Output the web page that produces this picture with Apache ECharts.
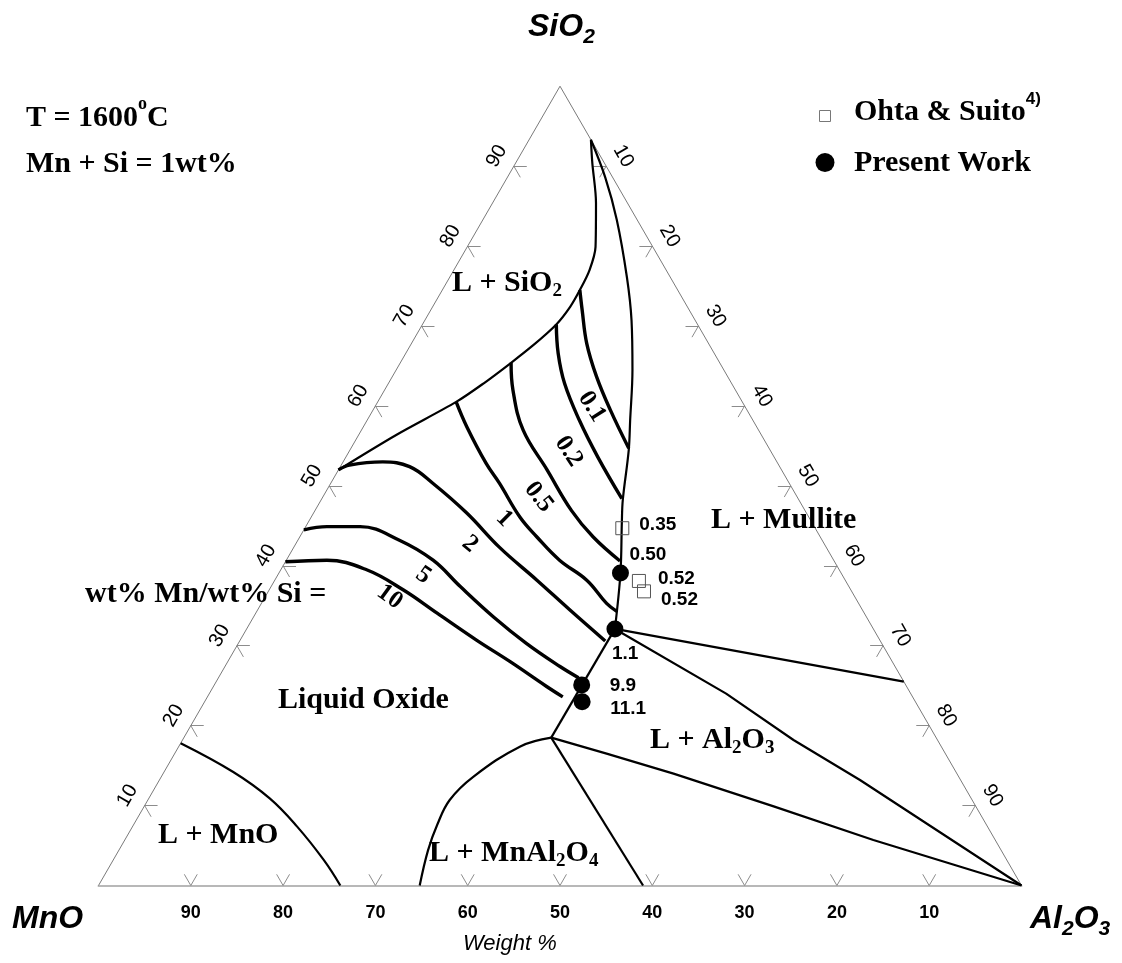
<!DOCTYPE html>
<html>
<head>
<meta charset="utf-8">
<script src="https://cdn.jsdelivr.net/npm/echarts@6.0.0/dist/echarts.min.js"></script>
<style>
  html, body { margin: 0; padding: 0; background: #fff; }
  #chart { width: 1122px; height: 963px; }
</style>
</head>
<body>
<div id="chart"></div>
<script>
// Compositions are written as [SiO2 wt%, Al2O3 wt%]; MnO makes up the balance.

// phase boundaries
const silicaLiquidus = [[52.0,0],[56.4,4.1],[60.5,8.5],[62.8,10.3],[65.4,12.0],[67.6,13.3],[70.2,14.5],[72.4,14.9],[74.5,14.9],[77.0,14.7],[79.9,13.9],[85.4,11.2],[90.4,8.3],[93.3,6.7]];
const mulliteBoundary = [[93.3,6.7],[88.6,10.6],[83.3,14.5],[76.1,19.2],[70.7,22.4],[64.5,25.6],[58.2,28.5],[54.5,30.2],[48.2,32.7],[45.4,34.0],[39.1,37.0],[32.1,39.9]];
const aluminaUpper = [[32.1,39.9],[18.5,39.8]];
const mulliteAlumina = [[32.1,39.9],[25.5,74.5]];
const mulliteTie = [[32.1,39.9],[24.0,56.0],[18.2,66.2],[13.2,75.9],[0,100]];
const spinelTie = [[18.5,39.8],[16.5,46.8],[14.0,55.3],[9.9,68.2],[5.7,81.1],[0,100]];
const spinelRight = [[18.5,39.8],[0,59.0]];
const spinelLiquidus = [[18.5,39.8],[17.4,37.0],[13.6,33.8],[10.7,32.7],[7.6,32.9],[4.4,33.5],[0,34.8]];
const manganositeLiquidus = [[17.8,0],[14.2,7.5],[10.9,13.1],[7.4,17.8],[3.2,22.8],[0,26.2]];

// iso wt% Mn / wt% Si lines
const isoRatio01 = [[74.5,14.9],[72.0,16.4],[67.8,19.0],[63.7,22.1],[59.5,25.7],[54.7,30.1]];
const isoRatio02 = [[70.2,14.5],[66.6,16.5],[62.8,19.1],[58.2,23.0],[53.6,27.3],[48.4,32.5]];
const isoRatio05 = [[65.4,12.0],[62.0,13.9],[57.0,17.5],[52.0,22.6],[46.9,27.8],[43.6,31.8],[40.6,36.2]];
const isoRatio1 = [[60.5,8.5],[57.4,11.2],[52.8,15.6],[50.3,18.3],[46.1,22.6],[43.6,25.7],[40.7,29.6],[38.2,33.8],[35.3,37.4],[34.3,39.0]];
const isoRatio2 = [[52.0,0],[52.6,0.9],[53.0,4.3],[52.4,7.5],[50.3,11.1],[46.6,16.6],[42.3,22.3],[38.2,28.4],[34.5,33.8],[30.6,39.6]];
const isoRatio5 = [[44.5,0],[44.9,2.3],[44.9,5.9],[43.2,11.0],[40.7,15.9],[37.4,20.5],[33.6,26.0],[30.3,31.2],[27.4,36.3],[26.0,39.0]];
const isoRatio10 = [[40.5,0],[40.7,4.4],[39.5,9.3],[37.0,14.5],[34.1,19.6],[30.7,25.6],[28.0,30.6],[24.9,36.1],[23.6,38.5]];
const isoRatioNames = ['0.1','0.2','0.5','1','2','5','10'];
const isoRatioLabelAt = [[59.9,23.5],[54.3,23.8],[48.6,23.4],[45.9,21.0],[42.7,18.9],[38.8,15.8],[36.1,13.5]];
const isoRatioLabelAngle = [-58,-57,-52,-45,-40,-35,-36];

// measured slag compositions: [SiO2, Al2O3, wt% Mn / wt% Si]
const ohtaSuito = [[44.7,34.4,'0.35'],[38.1,39.5,'0.52'],[36.8,40.7,'0.52']];
const presentWork = [[39.1,37.0,'0.50'],[32.1,39.9,'1.1'],[25.1,39.8,'9.9'],[23.0,40.9,'11.1']];
const ohtaLabelShift = [[17,-3],[19,-2],[17,8]];
const presentLabelShift = [[9,-18],[-3,25],[28,1],[28,7]];

// axis ticks (wt%)
const tickValues = [10,20,30,40,50,60,70,80,90];

const R3 = Math.sqrt(3) / 2;
const toXY = (p) => [p[1] + p[0] / 2, p[0] * R3];

const SERIF = '"Liberation Serif", "Times New Roman", serif';
const SANS = '"Liberation Sans", Arial, sans-serif';

function curve(pts, width, smooth) {
  return {
    type: 'line', data: pts.map(toXY), symbol: 'none', smooth: smooth || false,
    lineStyle: { color: '#000', width: width, opacity: 1 }, silent: true, z: 3, animation: false
  };
}

// tick stubs run a short way along the two grid directions into the triangle
const STUB = 1.4;
const tickCoords = [];
tickValues.forEach(v => {
  // SiO2 edge (left)
  tickCoords.push({ coords: [toXY([v, 0]), toXY([v, STUB])] });
  tickCoords.push({ coords: [toXY([v, 0]), toXY([v - STUB, STUB])] });
  // MnO edge (bottom)
  const al = 100 - v;
  tickCoords.push({ coords: [toXY([0, al]), toXY([STUB, al])] });
  tickCoords.push({ coords: [toXY([0, al]), toXY([STUB, al - STUB])] });
  // Al2O3 edge (right)
  tickCoords.push({ coords: [toXY([100 - v, v]), toXY([100 - v, v - STUB])] });
  tickCoords.push({ coords: [toXY([100 - v, v]), toXY([100 - v - STUB, v])] });
});

const LABEL_GAP = 2.15;
const leftTickLabels = tickValues.map(v => {
  const p = toXY([v, 0]);
  return { value: [p[0] - LABEL_GAP * R3, p[1] + LABEL_GAP * 0.5], name: String(v) };
});
const rightTickLabels = tickValues.map(v => {
  const p = toXY([100 - v, v]);
  return { value: [p[0] + LABEL_GAP * R3, p[1] + LABEL_GAP * 0.5], name: String(v) };
});

const solid = { opacity: 1 };

const series = [
  // triangle sides
  {
    type: 'line', data: [toXY([0, 0]), toXY([100, 0]), toXY([0, 100])], symbol: 'none',
    lineStyle: { color: '#7a7a7a', width: 1 }, silent: true, z: 1, animation: false
  },
  {
    type: 'lines', coordinateSystem: 'cartesian2d', data: tickCoords, silent: true, z: 1,
    lineStyle: { color: '#8c8c8c', width: 1, opacity: 1 }, animation: false
  },
  curve(silicaLiquidus, 2.2, 0.3),
  curve(mulliteBoundary, 2.2, 0.35),
  curve(aluminaUpper, 2.2),
  curve(mulliteAlumina, 2.2),
  curve(mulliteTie, 2.2),
  curve(spinelTie, 2.2),
  curve(spinelRight, 2.2),
  curve(spinelLiquidus, 2.2, 0.4),
  curve(manganositeLiquidus, 2.2, 0.4),
  curve(isoRatio01, 3.4, 0.4),
  curve(isoRatio02, 3.4, 0.4),
  curve(isoRatio05, 3.4, 0.4),
  curve(isoRatio1, 3.4, 0.4),
  curve(isoRatio2, 3.4, 0.4),
  curve(isoRatio5, 3.4, 0.4),
  curve(isoRatio10, 3.4, 0.4),
  {
    type: 'scatter', symbolSize: 0, silent: true, z: 5, animation: false, itemStyle: solid,
    data: isoRatioLabelAt.map((p, i) => ({
      value: toXY(p), name: isoRatioNames[i],
      label: { rotate: isoRatioLabelAngle[i] }
    })),
    label: {
      show: true, position: 'inside', formatter: '{b}', color: '#000', opacity: 1,
      fontFamily: SERIF, fontWeight: 'bold', fontSize: 25
    }
  },
  {
    type: 'scatter', symbol: 'rect', symbolSize: 13, silent: true, z: 6, animation: false,
    itemStyle: { color: 'rgba(255,255,255,0)', borderColor: '#555', borderWidth: 1, opacity: 1 },
    data: ohtaSuito.map((p, i) => ({
      value: toXY(p), name: p[2],
      label: { offset: ohtaLabelShift[i] }
    })),
    label: {
      show: true, position: 'inside', align: 'left', verticalAlign: 'middle', opacity: 1,
      formatter: '{b}', color: '#000', fontFamily: SANS, fontWeight: 'bold', fontSize: 19
    }
  },
  {
    type: 'scatter', symbol: 'circle', symbolSize: 17, silent: true, z: 6, animation: false,
    itemStyle: { color: '#000', opacity: 1 },
    data: presentWork.map((p, i) => ({
      value: toXY(p), name: p[2],
      label: { offset: presentLabelShift[i] }
    })),
    label: {
      show: true, position: 'inside', align: 'left', verticalAlign: 'middle', opacity: 1,
      formatter: '{b}', color: '#000', fontFamily: SANS, fontWeight: 'bold', fontSize: 19
    }
  },
  {
    type: 'scatter', symbolSize: 0, silent: true, z: 2, animation: false, data: leftTickLabels, itemStyle: solid,
    label: { show: true, position: 'inside', formatter: '{b}', rotate: 60, color: '#000', opacity: 1, fontFamily: SANS, fontSize: 20 }
  },
  {
    type: 'scatter', symbolSize: 0, silent: true, z: 2, animation: false, data: rightTickLabels, itemStyle: solid,
    label: { show: true, position: 'inside', formatter: '{b}', rotate: -60, color: '#000', opacity: 1, fontFamily: SANS, fontSize: 20 }
  }
];

// rich text pieces
const serifMain = { fontFamily: SERIF, fontWeight: 'bold', fontSize: 30, lineHeight: 30, fill: '#000' };
const serifRich = {
  m: serifMain,
  sub: { fontFamily: SERIF, fontWeight: 'bold', fontSize: 19, lineHeight: 19, padding: [17, 0, 0, 0], fill: '#000' },
  sup: { fontFamily: SERIF, fontWeight: 'bold', fontSize: 18, lineHeight: 18, padding: [0, 0, 28, 0], fill: '#000' },
  ref: { fontFamily: SANS, fontWeight: 'bold', fontSize: 17, lineHeight: 17, padding: [0, 0, 26, 0], fill: '#000' }
};
const vertexRich = {
  m: { fontFamily: SANS, fontWeight: 'bold', fontStyle: 'italic', fontSize: 32, lineHeight: 32, fill: '#000' },
  sub: { fontFamily: SANS, fontWeight: 'bold', fontStyle: 'italic', fontSize: 21, lineHeight: 21, padding: [20, 0, 0, 0], fill: '#000' }
};

function label(x, y, text, rich) {
  return {
    type: 'text', x: x, y: y, silent: true, z: 10,
    style: { text: text, rich: rich, fill: '#000', align: 'left', verticalAlign: 'middle' }
  };
}

const graphic = [
  label(26, 118, '{m|T = 1600}{sup|o}{m|C}', serifRich),
  label(26, 164, '{m|Mn + Si = 1wt%}', serifRich),
  { type: 'rect', silent: true, shape: { x: 819.5, y: 110.5, width: 11, height: 11 }, style: { fill: '#fff', stroke: '#777', lineWidth: 1 } },
  label(854, 112, '{m|Ohta & Suito}{ref|4)}', serifRich),
  { type: 'circle', silent: true, shape: { cx: 825, cy: 162.5, r: 9.5 }, style: { fill: '#000' } },
  label(854, 163, '{m|Present Work}', serifRich),
  label(452, 283, '{m|L + SiO}{sub|2}', serifRich),
  label(711, 520, '{m|L + Mullite}', serifRich),
  label(85, 594, '{m|wt% Mn/wt% Si =}', serifRich),
  label(278, 700, '{m|Liquid Oxide}', serifRich),
  label(650, 740, '{m|L + Al}{sub|2}{m|O}{sub|3}', serifRich),
  label(158, 835, '{m|L + MnO}', serifRich),
  label(429, 853, '{m|L + MnAl}{sub|2}{m|O}{sub|4}', serifRich),
  label(528, 27, '{m|SiO}{sub|2}', vertexRich),
  label(12, 919, '{m|MnO}', vertexRich),
  label(1030, 919, '{m|Al}{sub|2}{m|O}{sub|3}', vertexRich),
  {
    type: 'text', x: 463, y: 944, silent: true, z: 10,
    style: { text: 'Weight %', fill: '#000', font: 'italic 22px ' + SANS, align: 'left', verticalAlign: 'middle' }
  }
];

const chart = echarts.init(document.getElementById('chart'), null, { renderer: 'canvas' });
chart.setOption({
  animation: false,
  backgroundColor: '#fff',
  grid: { left: 98.5, top: 86.2, width: 923, height: 799.3, outerBoundsMode: 'none', containLabel: false },
  xAxis: {
    type: 'value', min: 0, max: 100, interval: 10,
    axisLine: { show: true, lineStyle: { color: '#b8b8b8', width: 2 } },
    axisTick: { show: false },
    splitLine: { show: false },
    axisLabel: {
      show: true, margin: 19, color: '#000', fontFamily: SANS, fontWeight: 'bold', fontSize: 18,
      formatter: v => (v <= 0 || v >= 100) ? '' : String(100 - v)
    }
  },
  yAxis: { type: 'value', min: 0, max: 100 * R3, show: false },
  series: series,
  graphic: graphic
});
</script>
</body>
</html>
